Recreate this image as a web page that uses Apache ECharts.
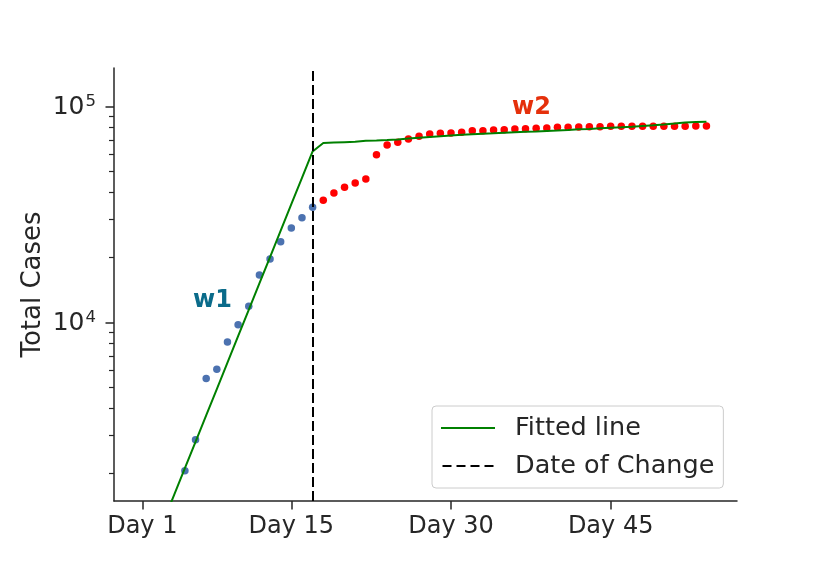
<!DOCTYPE html>
<html>
<head>
<meta charset="utf-8">
<script src="https://cdn.jsdelivr.net/npm/echarts@6/dist/echarts.min.js"></script>
<style>
html,body{margin:0;padding:0;background:#fff;}
#chart{width:830px;height:573px;}
</style>
</head>
<body>
<div id="chart"></div>
<script>
// ---- data ----
const blueDays  = [5,6,7,8,9,10,11,12,13,14,15,16,17];
const blueCases = [2065,2873,5508,6085,8140,9790,11910,16630,19720,23710,27440,30630,34220];

const redDays  = [18,19,20,21,22,23,24,25,26,27,28,29,30,31,32,33,34,35,36,37,38,39,40,41,42,43,44,45,46,47,48,49,50,51,52,53,54];
const redCases = [36870,39830,42360,44350,46280,59960,66480,68420,70880,72950,74750,75310,75550,76130,77420,77420,78000,78250,78850,79100,79430,79690,80280,80280,80540,80800,80800,81150,81150,81150,81150,81150,81150,81150,81150,81400,81400];

const fitDays  = [1,2,3,4,5,6,7,8,9,10,11,12,13,14,15,16,17,18,19,20,21,22,23,24,25,26,27,28,29,30,31,32,33,34,35,36,37,38,39,40,41,42,43,44,45,46,47,48,49,50,51,52,53,54];
const fitCases = [688,911,1207,1600,2120,2808,3721,4930,6531,8654,11466,15190,20130,26670,35340,46820,62030,67920,68200,68480,68770,69500,69730,70100,70550,71160,71770,72380,72940,73560,74110,74590,74990,75310,75710,76110,76430,76760,77170,77580,78000,78500,78910,79430,79850,80280,80790,81390,82000,82710,83510,84400,84950,85130];

const changeDay = 17;

const xTickDays = [1, 15, 30, 45];
const yMajorTicks = [10000, 100000];
const yMinorTicks = [2000,3000,4000,5000,6000,7000,8000,9000,20000,30000,40000,50000,60000,70000,80000,90000];

// ---- chart ----
const FONT = 'DejaVu Sans';
const INK = '#262626';
const pairs = (xs, ys) => xs.map((x, i) => [x, ys[i]]);

const chart = echarts.init(document.getElementById('chart'), null, {renderer: 'canvas'});
chart.setOption({
  animation: false,
  backgroundColor: '#ffffff',
  textStyle: {fontFamily: FONT, color: INK},
  grid: {left: 114, right: 93, top: 68, bottom: 72, containLabel: false, outerBoundsMode: 'none'},
  xAxis: {
    type: 'value', min: -1.66, max: 56.87,
    splitLine: {show: false},
    axisLine: {onZero: false, lineStyle: {color: INK, width: 1.5}},
    axisTick: {customValues: xTickDays, length: 8.5, lineStyle: {color: INK, width: 1.5}},
    axisLabel: {customValues: xTickDays, formatter: v => 'Day ' + v, fontSize: 24, color: INK, fontFamily: FONT, margin: 14}
  },
  yAxis: [{
    type: 'log', logBase: 10, min: 1494, max: 151000,
    name: 'Total Cases', nameLocation: 'middle', nameGap: 68, nameMoveOverlap: false,
    nameTextStyle: {fontSize: 26, color: INK, fontFamily: FONT},
    splitLine: {show: false},
    axisLine: {show: true, onZero: false, lineStyle: {color: INK, width: 1.5}},
    axisTick: {customValues: yMajorTicks, length: 8.5, lineStyle: {color: INK, width: 1.5}},
    axisLabel: {
      customValues: yMajorTicks, margin: 18,
      formatter: v => '{b|10}{s|' + Math.round(Math.log10(v)) + '}',
      rich: {
        b: {fontSize: 25, lineHeight: 27, color: INK, fontFamily: FONT, verticalAlign: 'bottom'},
        s: {fontSize: 16.5, lineHeight: 20, color: INK, fontFamily: FONT, verticalAlign: 'top', padding: [0, 0, 4, 1]}
      }
    }
  }, {
    type: 'log', logBase: 10, min: 1494, max: 151000, position: 'left', offset: 0,
    splitLine: {show: false},
    axisLine: {show: false, onZero: false},
    axisTick: {show: true, customValues: yMinorTicks, length: 5, lineStyle: {color: INK, width: 1.2}},
    axisLabel: {show: false}
  }],
  legend: {
    orient: 'vertical', left: 432, top: 406,
    padding: [9, 9, 9, 9],
    itemWidth: 54, itemHeight: 2, itemGap: 12,
    borderColor: '#cccccc', borderWidth: 1, borderRadius: 4,
    backgroundColor: 'rgba(255,255,255,0.8)',
    textStyle: {fontSize: 25.5, color: INK, fontFamily: FONT, padding: [0, 0, 0, 15], lineHeight: 26},
    data: [
      {name: 'Fitted line', icon: 'path://M0,0H54V2H0Z'},
      {name: 'Date of Change', icon: 'path://M0,0H9V2H0Z M14,0H23V2H14Z M28,0H37V2H28Z M42,0H51V2H42Z'}
    ]
  },
  series: [
    {
      name: 'w1 cases', type: 'scatter', data: pairs(blueDays, blueCases),
      symbolSize: 7.5, itemStyle: {color: '#4c72b0', opacity: 1}, z: 3
    },
    {
      name: 'w2 cases', type: 'scatter', data: pairs(redDays, redCases),
      symbolSize: 7.5, itemStyle: {color: '#ff0000', opacity: 1}, z: 3
    },
    {
      name: 'Fitted line', type: 'line', data: pairs(fitDays, fitCases),
      showSymbol: false, symbol: 'none', clip: true,
      lineStyle: {color: '#008000', width: 2}, itemStyle: {color: '#008000'}, z: 4
    },
    {
      name: 'Date of Change', type: 'line', data: [],
      symbol: 'none',
      lineStyle: {color: '#000000', width: 2, type: [10, 4]}, itemStyle: {color: '#000000'},
      markLine: {
        silent: true, symbol: ['none', 'none'], animation: false,
        label: {show: false},
        lineStyle: {color: '#000000', width: 2, type: [10, 4]},
        data: [{xAxis: changeDay}]
      },
      z: 2
    }
  ],
  graphic: [
    {type: 'text', left: 193, top: 289, style: {text: 'w1', font: 'bold 24px "DejaVu Sans"', fill: '#0a6b8a'}},
    {type: 'text', left: 512, top: 96, style: {text: 'w2', font: 'bold 24px "DejaVu Sans"', fill: '#e5300b'}}
  ]
});
</script>
</body>
</html>
